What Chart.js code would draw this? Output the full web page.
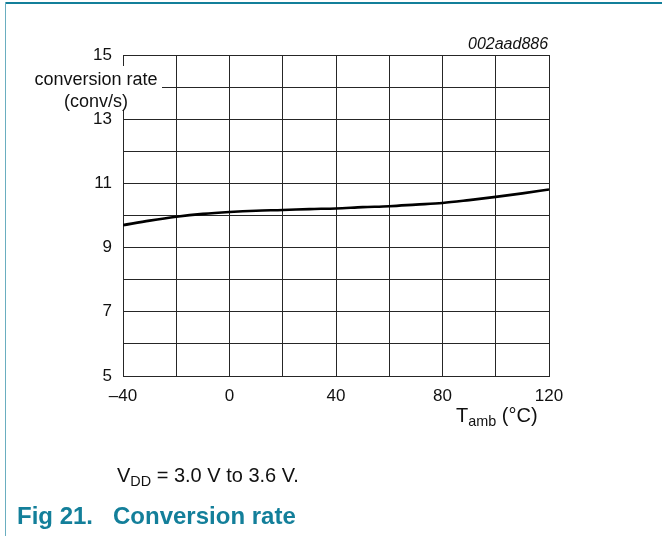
<!DOCTYPE html>
<html>
<head>
<meta charset="utf-8">
<script src="https://cdn.jsdelivr.net/npm/chart.js@4.4.1/dist/chart.umd.min.js"></script>
<style>
  body { margin: 0; background: #fff; font-family: "Liberation Sans", Arial, sans-serif; }
  #wrap { position: relative; width: 662px; height: 536px; overflow: hidden; }
  #myChart { position: absolute; left: 0; top: 0; }
  .txt { position: absolute; white-space: nowrap; color: #111; }
  .sub { font-size: 0.72em; position: relative; top: 0.3em; }
</style>
</head>
<body>
<div id="wrap">
  <canvas id="myChart" width="662" height="536"></canvas>
  <div style="position:absolute;left:5px;top:2px;width:657px;height:2px;background:#137f9a"></div>
  <div style="position:absolute;left:5px;top:2px;width:1px;height:534px;background:#6aaec0"></div>
  <div class="txt" style="left:468px;top:35px;font-size:16px;font-style:italic">002aad886</div>
  <div class="txt" style="left:30px;top:66px;width:132px;height:44px;background:#fff;text-align:center;font-size:18px;line-height:22px;padding-top:2px;box-sizing:border-box">conversion rate<br>(conv/s)</div>
  <div class="txt" style="left:456px;top:404px;font-size:20px">T<span class="sub">amb</span> (°C)</div>
  <div class="txt" style="left:117px;top:464px;font-size:20px">V<span class="sub">DD</span> = 3.0 V to 3.6 V.</div>
  <div class="txt" style="left:17px;top:502px;font-size:24px;font-weight:bold;color:#137f9a">Fig 21.&nbsp;&nbsp;&nbsp;Conversion rate</div>
</div>
<script>
// ambient temperature (deg C) and conversion rate (conv/s)
var temps = [-40, -30, -20, -10, 0, 10, 20, 30, 40, 50, 60, 70, 80, 90, 100, 110, 120];
var rate = [9.70, 9.84, 9.96, 10.05, 10.11, 10.15, 10.17, 10.20, 10.22, 10.26, 10.29, 10.34, 10.39, 10.48, 10.58, 10.69, 10.81];

var xLabels = [-40, 0, 40, 80, 120];
var yLabels = [5, 7, 9, 11, 13, 15];

var points = temps.map(function (t, i) { return { x: t, y: rate[i] }; });
var gridColor = "#262626";
var tickFont = { family: "Liberation Sans, Arial, sans-serif", size: 17 };

var ctx = document.getElementById("myChart");
var myChart = new Chart(ctx, {
  type: 'line',
  data: {
    datasets: [
      {
        data: points,
        borderColor: "#000",
        borderWidth: 2.6,
        pointRadius: 0,
        cubicInterpolationMode: 'monotone',
        fill: false
      }
    ]
  },
  options: {
    responsive: false,
    devicePixelRatio: 1,
    animation: false,
    layout: { padding: { left: 0, top: 55, right: 113, bottom: 130 } },
    plugins: { legend: { display: false }, tooltip: { enabled: false } },
    scales: {
      x: {
        type: 'linear',
        min: -40,
        max: 120,
        afterFit: function (scale) { scale.height = 30; },
        grid: { color: gridColor, lineWidth: 1, drawTicks: false },
        border: { color: gridColor, width: 1 },
        ticks: {
          stepSize: 20,
          padding: 10,
          color: "#111",
          font: tickFont,
          maxRotation: 0,
          autoSkip: false,
          callback: function (v) {
            if (xLabels.indexOf(v) < 0) return '';
            return v < 0 ? '\u2013' + Math.abs(v) : String(v);
          }
        }
      },
      y: {
        min: 5,
        max: 15,
        afterFit: function (scale) { scale.width = 123; },
        grid: { color: gridColor, lineWidth: 1, drawTicks: false },
        border: { color: gridColor, width: 1 },
        ticks: {
          stepSize: 1,
          padding: 11,
          color: "#111",
          font: tickFont,
          autoSkip: false,
          callback: function (v) { return yLabels.indexOf(v) < 0 ? '' : String(v); }
        }
      }
    }
  }
});
</script>
</body>
</html>
